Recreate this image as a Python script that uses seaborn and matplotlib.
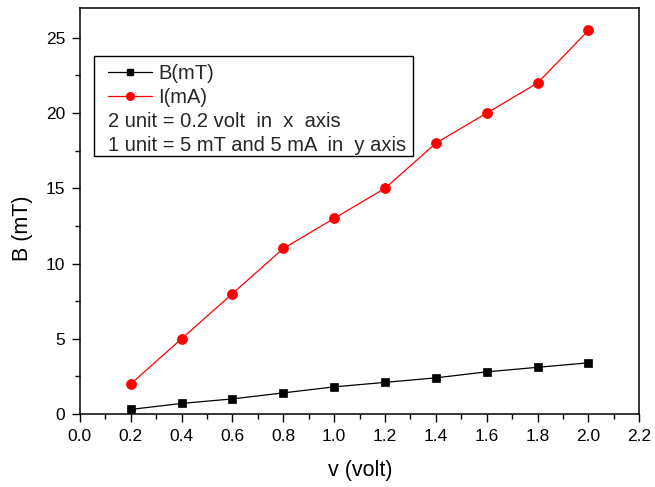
import matplotlib
matplotlib.use("Agg")
import matplotlib.pyplot as plt
from matplotlib.lines import Line2D
from matplotlib.offsetbox import DrawingArea
from matplotlib.ticker import MultipleLocator
import seaborn as sns
import pandas as pd

# Measurements: applied voltage vs magnetic field and current
voltage = [0.2, 0.4, 0.6, 0.8, 1.0, 1.2, 1.4, 1.6, 1.8, 2.0]
field_mT = [0.3, 0.7, 1.0, 1.4, 1.8, 2.1, 2.4, 2.8, 3.1, 3.4]
current_mA = [2, 5, 8, 11, 13, 15, 18, 20, 22, 25.5]

df = pd.DataFrame({"v": voltage, "B": field_mT, "I": current_mA})

sns.set_theme(style="white")
plt.rcParams["font.family"] = ["Liberation Sans", "DejaVu Sans"]

fig = plt.figure(figsize=(6.55, 4.87), dpi=100)
ax = fig.add_axes([0.122, 0.150, 0.854, 0.834])

sns.lineplot(data=df, x="v", y="B", ax=ax, color="black", marker="s",
             markersize=6.3, linewidth=0.9, markeredgecolor="black",
             markeredgewidth=0.5)
sns.lineplot(data=df, x="v", y="I", ax=ax, color="red", marker="o",
             markersize=7.2, linewidth=0.9, markeredgecolor="red",
             markeredgewidth=0.5)

ax.set_xlim(0.0, 2.2)
ax.set_ylim(0, 27)
ax.xaxis.set_major_locator(MultipleLocator(0.2))
ax.xaxis.set_minor_locator(MultipleLocator(0.1))
ax.yaxis.set_major_locator(MultipleLocator(5))
ax.yaxis.set_minor_locator(MultipleLocator(2.5))
ax.set_xticklabels([f"{t:.1f}" for t in ax.get_xticks()])

for s in ax.spines.values():
    s.set_color("black")
    s.set_linewidth(1.1)

ax.tick_params(axis="both", which="major", direction="out", length=6, width=1.0,
               color="black", labelsize=12.5, labelcolor="black",
               bottom=True, left=True, top=False, right=False, pad=4.5)
ax.tick_params(axis="both", which="minor", direction="out", length=3.5, width=1.0,
               color="black", bottom=True, left=True, top=False, right=False)

ax.set_xlabel("v (volt)", fontsize=15.5, color="black")
ax.set_ylabel("B (mT)", fontsize=15.5, color="black")
ax.xaxis.set_label_coords(0.502, -0.113)
ax.yaxis.set_label_coords(-0.084, 0.458)

handles = [
    Line2D([], [], color="black", marker="s", markersize=4.8, linewidth=0.9),
    Line2D([], [], color="red", marker="o", markersize=5.5, linewidth=0.9),
    Line2D([], [], linestyle="none"),
    Line2D([], [], linestyle="none"),
]
labels = ["B(mT)", "I(mA)", "2 unit = 0.2 volt  in  x  axis",
          "1 unit = 5 mT and 5 mA  in  y axis"]
leg_fs = 14.5
text_pad = 0.3
row_gap = 0.25
leg = ax.legend(handles, labels, loc="upper left", bbox_to_anchor=(0.025, 0.882),
                borderaxespad=0, fontsize=leg_fs, frameon=True, fancybox=False,
                edgecolor="black", framealpha=1, handlelength=2.2,
                handletextpad=text_pad, labelspacing=row_gap, borderpad=0.05)
leg.get_frame().set_linewidth(1.0)

# custom insets: wider on the left, a little space above the first row,
# and text-only rows lose their empty handle slot
left_inset = 9.4   # points
right_inset = 4.3  # points
top_space = 1.7    # points
sep = text_pad * leg_fs
column = leg._legend_handle_box.get_children()[0]
rows = column.get_children()
for i, row in enumerate(rows):
    if i >= 2:
        row.get_children()[0].width = 0
        row.sep = 0
        row._children.insert(0, DrawingArea(left_inset, 0))
        row._children.append(DrawingArea(right_inset, 0))
    else:
        row._children.insert(0, DrawingArea(left_inset - sep, 0))
column._children.insert(0, DrawingArea(0, top_space))

fig.savefig("out.png", dpi=100)
